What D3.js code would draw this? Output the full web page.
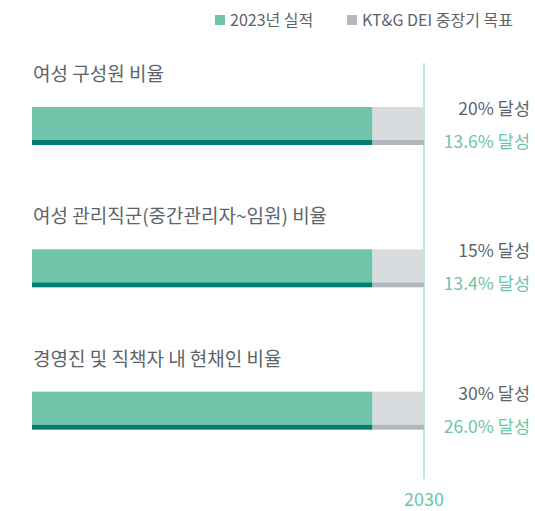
<!DOCTYPE html>
<html>
<head>
<meta charset="utf-8">
<script src="https://cdn.jsdelivr.net/npm/d3@7"></script>
<style>
  html, body { margin: 0; padding: 0; background: #fff; }
  svg text { font-family: "Noto Sans CJK KR", "Noto Sans", sans-serif; }
</style>
</head>
<body>
<svg id="chart" width="535" height="511"></svg>
<script>
// Indicators and their figures
const categories = [
  "여성 구성원 비율",
  "여성 관리직군(중간관리자~임원) 비율",
  "경영진 및 직책자 내 현채인 비율"
];
const targetValues = [20, 15, 30];      // KT&G DEI 중장기 목표 (%)
const actualValues = [13.6, 13.4, 26.0]; // 2023년 실적 (%)

// Timeline along each bar: progress is shown up to the reporting year, target to 2030
const timelineStart = 1977;
const actualYear = 2023;
const targetYear = 2030;
const tickYears = [2030];

const legendLabels = ["2023년 실적", "KT&G DEI 중장기 목표"];

const colors = {
  actual: "#6fc4aa",
  actualEdge: "#007f70",
  target: "#d8dcdf",
  targetEdge: "#b1b7bc",
  text: "#5c646a",
  accent: "#6dc4a7",
  line: "#92d5bf"
};

const svg = d3.select("#chart");

const x = d3.scaleLinear().domain([timelineStart, targetYear]).range([32, 424]);
const y = d3.scaleBand().domain(categories).range([58, 485]).paddingInner(0).paddingOuter(0);

const barTop = 49, barH = 38, edgeH = 5;

// Legend
const legend = svg.append("g");
const legendItems = [
  { label: legendLabels[0], color: colors.actual, x: 215 },
  { label: legendLabels[1], color: colors.targetEdge, x: 347 }
];
legendItems.forEach(d => {
  legend.append("rect").attr("x", d.x).attr("y", 15).attr("width", 10).attr("height", 10).attr("fill", d.color);
  legend.append("text").attr("x", d.x + 15).attr("y", 26)
    .attr("font-size", 16).attr("fill", colors.text).text(d.label);
});

// Target-year reference line
svg.append("line")
  .attr("x1", x(targetYear)).attr("x2", x(targetYear))
  .attr("y1", 63).attr("y2", 479)
  .attr("stroke", colors.line).attr("stroke-width", 1.2);

svg.selectAll(".tick-label").data(tickYears).join("text")
  .attr("class", "tick-label")
  .attr("x", d => x(d)).attr("y", 506)
  .attr("text-anchor", "middle").attr("font-size", 18)
  .attr("fill", colors.accent).text(d => d);

const rows = svg.selectAll(".row").data(categories).join("g")
  .attr("class", "row")
  .attr("transform", d => `translate(0,${y(d)})`);

rows.append("text")
  .attr("x", 33).attr("y", 23)
  .attr("font-size", 19).attr("fill", colors.text)
  .text(d => d);

// Target segment
rows.append("rect")
  .attr("x", x(actualYear)).attr("y", barTop)
  .attr("width", x(targetYear) - x(actualYear)).attr("height", barH - edgeH)
  .attr("fill", colors.target);
rows.append("rect")
  .attr("x", x(actualYear)).attr("y", barTop + barH - edgeH)
  .attr("width", x(targetYear) - x(actualYear)).attr("height", edgeH)
  .attr("fill", colors.targetEdge);

// Achieved segment
rows.append("rect")
  .attr("x", x(timelineStart)).attr("y", barTop)
  .attr("width", x(actualYear) - x(timelineStart)).attr("height", barH - edgeH)
  .attr("fill", colors.actual);
rows.append("rect")
  .attr("x", x(timelineStart)).attr("y", barTop + barH - edgeH)
  .attr("width", x(actualYear) - x(timelineStart)).attr("height", edgeH)
  .attr("fill", colors.actualEdge);

// Value labels
rows.append("text")
  .attr("x", 530).attr("y", 57)
  .attr("text-anchor", "end").attr("font-size", 17.5).attr("fill", colors.text)
  .text((d, i) => `${targetValues[i]}% 달성`);
rows.append("text")
  .attr("x", 530).attr("y", 90)
  .attr("text-anchor", "end").attr("font-size", 17.5).attr("fill", colors.accent)
  .text((d, i) => `${actualValues[i].toFixed(1)}% 달성`);
</script>
</body>
</html>
